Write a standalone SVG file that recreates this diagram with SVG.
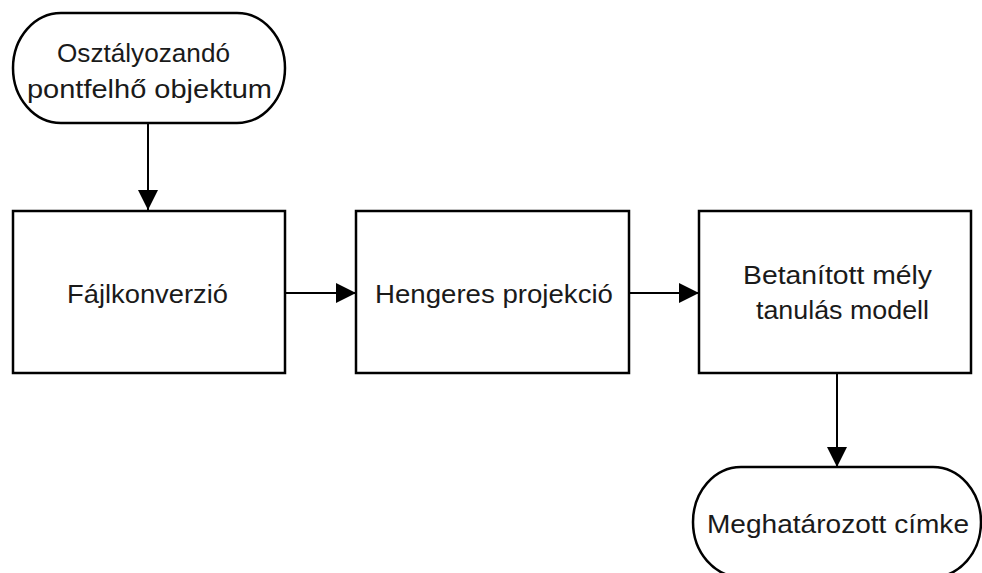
<svg xmlns="http://www.w3.org/2000/svg" width="982" height="573" viewBox="0 0 982 573">
<style>
.n{fill:#fff;stroke:#000;stroke-width:2.5}
.t{font-family:"Liberation Sans",Arial,sans-serif;font-size:25px;fill:#1a1a1a;text-anchor:middle}
.c{stroke:#000;stroke-width:2;fill:none}
</style>
<defs>
<marker id="ah" markerWidth="20" markerHeight="20" viewBox="0 0 20 20" refX="20" refY="10" orient="auto" markerUnits="userSpaceOnUse">
<path d="M0,0 L20,10 L0,20 Z" fill="#000"/>
</marker>
</defs>
<rect width="982" height="573" fill="#fff"/>
<g id="connectors">
<line class="c" x1="148" y1="123" x2="148" y2="210" marker-end="url(#ah)"/>
<line class="c" x1="285" y1="293" x2="356" y2="293" marker-end="url(#ah)"/>
<line class="c" x1="629" y1="293" x2="699" y2="293" marker-end="url(#ah)"/>
<line class="c" x1="837" y1="373" x2="837" y2="467" marker-end="url(#ah)"/>
</g>
<g id="start">
<rect class="n" x="13" y="13" width="272" height="110" rx="48" ry="55"/>
<text class="t" x="143.5" y="62" textLength="173" lengthAdjust="spacingAndGlyphs">Osztályozandó</text>
<text class="t" x="149.5" y="98" textLength="245" lengthAdjust="spacingAndGlyphs">pontfelhő objektum</text>
</g>
<g id="fajlkonverzio">
<rect class="n" x="13" y="211" width="272" height="162"/>
<text class="t" x="147.5" y="303" textLength="161" lengthAdjust="spacingAndGlyphs">Fájlkonverzió</text>
</g>
<g id="hengeres">
<rect class="n" x="356" y="211" width="273" height="162"/>
<text class="t" x="494" y="303" textLength="238" lengthAdjust="spacingAndGlyphs">Hengeres projekció</text>
</g>
<g id="modell">
<rect class="n" x="699" y="211" width="272" height="162"/>
<text class="t" x="837.5" y="284" textLength="189" lengthAdjust="spacingAndGlyphs">Betanított mély</text>
<text class="t" x="842.5" y="319" textLength="173" lengthAdjust="spacingAndGlyphs">tanulás modell</text>
</g>
<g id="end">
<rect class="n" x="693" y="467" width="288" height="110" rx="48" ry="55"/>
<text class="t" x="838" y="533" textLength="262" lengthAdjust="spacingAndGlyphs">Meghatározott címke</text>
</g>
</svg>
